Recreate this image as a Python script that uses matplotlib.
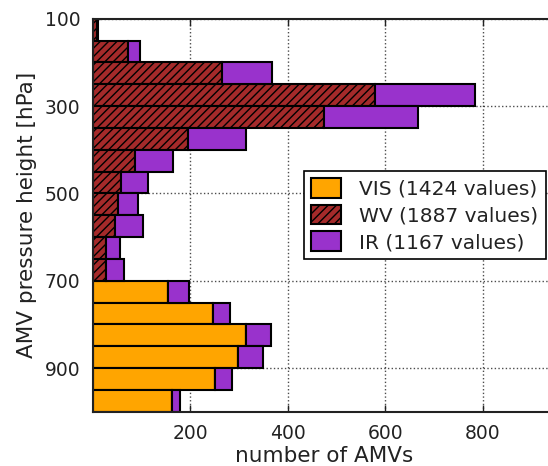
import matplotlib
matplotlib.use('Agg')
import matplotlib.pyplot as plt

# pressure bins (hPa), 50 hPa wide
bin_bottoms = [100, 150, 200, 250, 300, 350, 400, 450, 500,
               550, 600, 650, 700, 750, 800, 850, 900, 950]
BIN_H = 50

# counts per bin, stacked left to right: VIS, WV, IR
vis = [0, 0, 0, 0, 0, 0, 0, 0, 0, 0, 0, 0, 155, 246, 314, 297, 250, 162]
wv = [8, 71, 265, 580, 475, 195, 87, 58, 51, 45, 26, 26, 0, 0, 0, 0, 0, 0]
ir = [2, 26, 102, 205, 192, 120, 77, 55, 42, 57, 29, 38, 43, 36, 51, 53, 36, 17]

labels = ['VIS (1424 values)', 'WV (1887 values)', 'IR (1167 values)']

VIS_C = '#FFA500'
WV_C = '#A52A2A'
IR_C = '#9932CC'

plt.rcParams['font.family'] = 'DejaVu Sans'
plt.rcParams['hatch.linewidth'] = 1.0

fig = plt.figure(figsize=(5.48, 4.66), dpi=100)
ax = fig.add_axes([93 / 548, 1 - 411.7 / 466, (555.6 - 93) / 548, (411.7 - 18.7) / 466])

left_wv = vis
left_ir = [a + b for a, b in zip(vis, wv)]

ax.barh(bin_bottoms, vis, height=BIN_H, align='edge', color=VIS_C,
        edgecolor='black', linewidth=1.5, label=labels[0], zorder=2)
ax.barh(bin_bottoms, wv, height=BIN_H, left=left_wv, align='edge', color=WV_C,
        edgecolor='black', linewidth=1.5, hatch='////', label=labels[1], zorder=2)
ax.barh(bin_bottoms, ir, height=BIN_H, left=left_ir, align='edge', color=IR_C,
        edgecolor='black', linewidth=1.5, label=labels[2], zorder=2)

ax.set_xlim(0, 950)
ax.set_ylim(1000, 100)
ax.set_xticks([200, 400, 600, 800])
ax.set_yticks([100, 300, 500, 700, 900])
ax.tick_params(direction='in', top=True, right=True, length=5, width=1,
               labelsize=13.5, colors='#222222', pad=9)
ax.grid(True, color='black', linestyle=':', linewidth=1, alpha=0.7, zorder=1)
ax.set_axisbelow(True)

for s in ax.spines.values():
    s.set_linewidth(1.5)
    s.set_color('#222222')

ax.set_xlabel('number of AMVs', fontsize=15.5, color='#222222', labelpad=2)
ax.set_ylabel('AMV pressure height [hPa]', fontsize=15.5, color='#222222', labelpad=6)

leg = ax.legend(loc='center right', fontsize=14.5, fancybox=False, framealpha=1,
                edgecolor='black', handlelength=1.5, handleheight=1.1,
                handletextpad=0.9, labelspacing=0.3, borderpad=0.35,
                borderaxespad=0.5)
leg.get_frame().set_linewidth(1.2)
for t in leg.get_texts():
    t.set_color('#222222')

plt.savefig('out.png', dpi=100)
plt.close()
